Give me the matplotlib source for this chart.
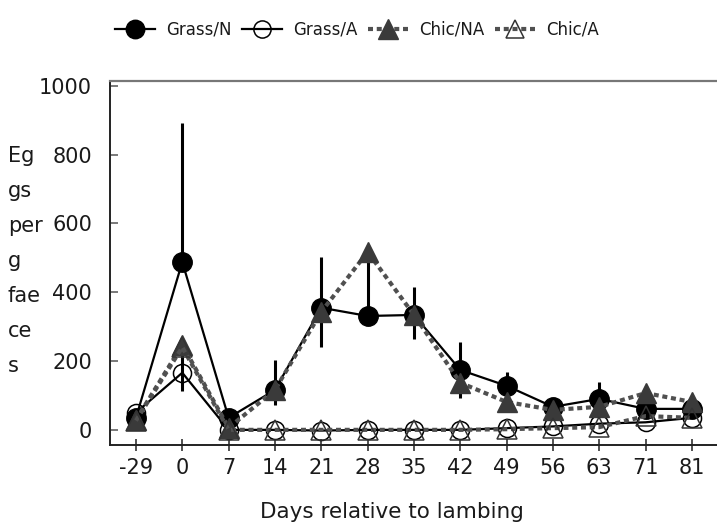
import matplotlib.pyplot as plt
import numpy as np

days = ['-29', '0', '7', '14', '21', '28', '35', '42', '49', '56', '63', '71', '81']

grass_n = [35, 488, 35, 116, 355, 331, 334, 174, 128, 67, 90, 61, 61]
grass_n_lo = [0, 0, 0, 43, 115, 0, 70, 80, 0, 0, 0, 0, 0]
grass_n_hi = [0, 405, 0, 87, 148, 157, 80, 82, 41, 0, 50, 0, 0]

grass_a = [50, 166, 0, 0, -2, 0, 0, 0, 5, 10, 18, 22, 35]
grass_a_err = [0, 52, 0, 0, 0, 0, 0, 0, 0, 0, 0, 0, 0]

chic_na = [29, 247, 6, 116, 343, 517, 334, 137, 81, 58, 67, 107, 81]
chic_a = [27, 240, 0, 0, 0, 0, 0, 0, 2, 5, 8, 40, 35]

plt.rcParams['font.family'] = ['DejaVu Sans']
txt = '#1a1a1a'

fig = plt.figure(figsize=(7.17, 5.28), dpi=100)
ax = fig.add_axes([110/717, 1 - 445/528, 1 - 110/717, (445 - 81)/528])

x = np.arange(len(days))

ax.errorbar(x, grass_n, yerr=[grass_n_lo, grass_n_hi], fmt='none', ecolor='black',
            elinewidth=2.2, capsize=0, zorder=2)
ax.errorbar(x, grass_a, yerr=grass_a_err, fmt='none', ecolor='black',
            elinewidth=2.2, capsize=0, zorder=2)

l1, = ax.plot(x, grass_n, '-', color='black', lw=1.6, marker='o', ms=14,
              mfc='black', mec='black', zorder=3, label='Grass/N')
l2, = ax.plot(x, grass_a, '-', color='black', lw=1.6, marker='o', ms=13,
              mfc='none', mec='black', mew=1.1, zorder=4, label='Grass/A')
l3, = ax.plot(x, chic_na, color='#505050', lw=3, ls=(0, (1.2, 0.9)), marker='^', ms=15,
              mfc='#3a3a3a', mec='#3a3a3a', zorder=5, label='Chic/NA')
l4, = ax.plot(x, chic_a, color='#505050', lw=3, ls=(0, (1.2, 0.9)), marker='^', ms=14,
              mfc='none', mec='#333333', mew=1.1, zorder=6, label='Chic/A')

ax.set_xlim(-0.56, 12.54)
ax.set_ylim(-44, 1014)
ax.set_xticks(x)
ax.set_xticklabels(days)
ax.set_yticks([0, 200, 400, 600, 800, 1000])

ax.spines['right'].set_visible(False)
ax.spines['top'].set_color('#777777')
ax.spines['top'].set_linewidth(1.6)
ax.spines['left'].set_linewidth(1.4)
ax.spines['bottom'].set_linewidth(1.4)
ax.spines['left'].set_color('#222222')
ax.spines['bottom'].set_color('#222222')

ax.tick_params(axis='y', direction='in', length=6, width=1.1, color='#555555',
               pad=13, labelsize=15, labelcolor=txt)
ax.tick_params(axis='x', direction='inout', length=8, width=1.1, color='#222222',
               pad=5, labelsize=15, labelcolor=txt)

fig.text(392/717, 1 - 512/528, 'Days relative to lambing', ha='center', va='center',
         fontsize=15.5, color=txt)
fig.text(8/717, 1 - 146/528, 'Eg\ngs\nper\ng\nfae\nce\ns', ha='left', va='top',
         fontsize=15, color=txt, linespacing=1.94)

fig.legend(handles=[l1, l2, l3, l4], loc='center', bbox_to_anchor=(357/717, 1 - 30/528),
           ncol=4, frameon=False, fontsize=12, handlelength=2.4, handletextpad=0.7,
           columnspacing=0.6, markerscale=0.95, labelcolor=txt)

fig.savefig('out.png', dpi=100)
